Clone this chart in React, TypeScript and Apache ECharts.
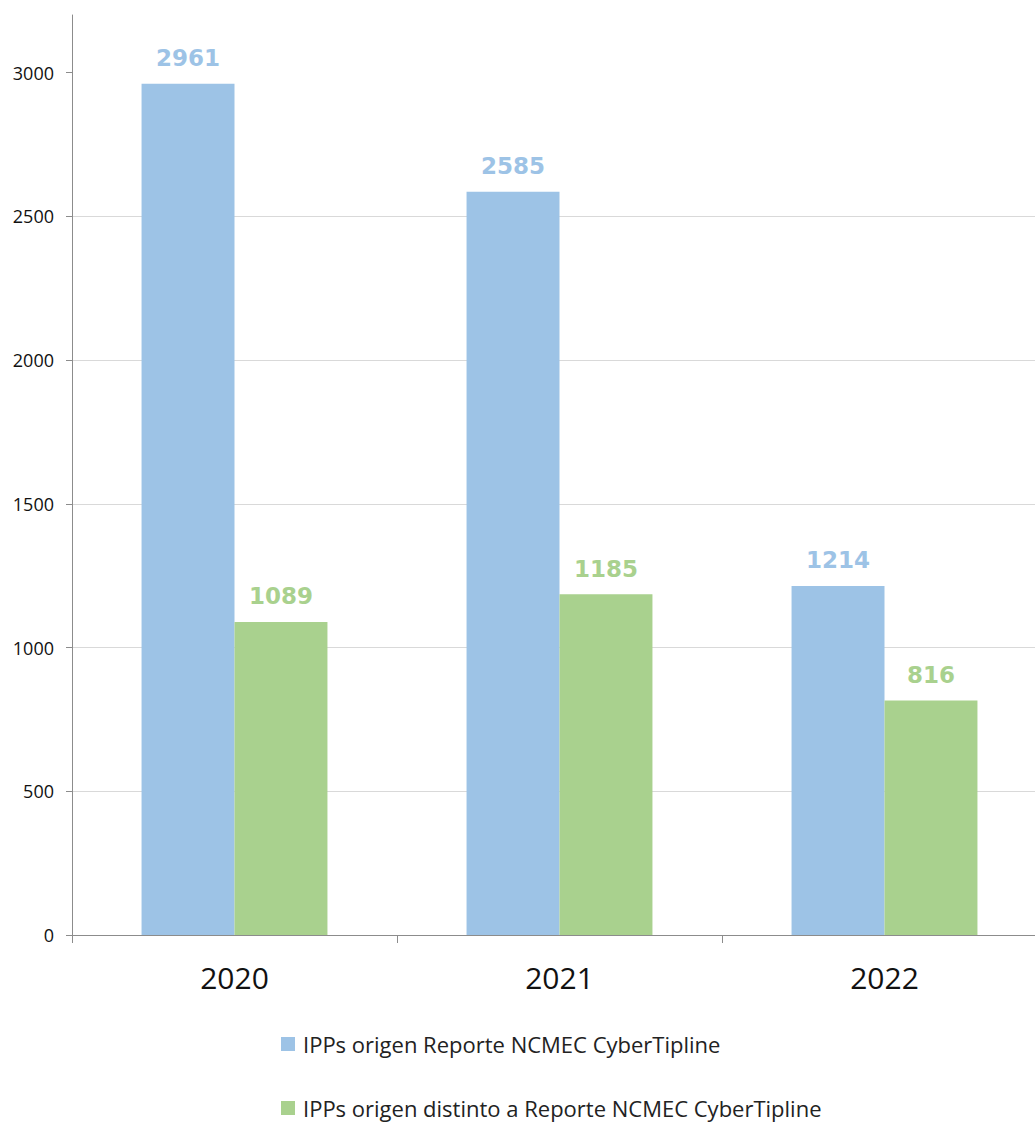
import React, { useEffect, useRef } from "react";
import * as echarts from "echarts";

const categories = ["2020", "2021", "2022"];
const seriesNames = [
  "IPPs origen Reporte NCMEC CyberTipline",
  "IPPs origen distinto a Reporte NCMEC CyberTipline",
];
const ncmecValues = [2961, 2585, 1214];
const otherValues = [1089, 1185, 816];
const yTicks = [0, 500, 1000, 1500, 2000, 2500, 3000];

const BLUE = "#9DC3E6";
const GREEN = "#A9D18E";

export default function App() {
  const ref = useRef<HTMLDivElement>(null);
  useEffect(() => {
    if (!ref.current) return;
    const chart = echarts.init(ref.current, null, { renderer: "svg" });
    const labelStyle = (color: string) => ({
      show: true,
      position: "top" as const,
      distance: 14,
      color,
      fontSize: 23,
      fontWeight: "bold" as const,
      fontFamily: "DejaVu Sans",
    });
    chart.setOption({
      animation: false,
      backgroundColor: "#ffffff",
      grid: { left: 72, top: 15, width: 975, height: 920, containLabel: false, outerBoundsMode: "none" },
      xAxis: {
        type: "category",
        data: categories,
        axisLine: { lineStyle: { color: "#8c8c8c", width: 1 } },
        axisTick: { show: true, alignWithLabel: false, length: 8, lineStyle: { color: "#8c8c8c" } },
        axisLabel: { fontSize: 30, color: "#111111", margin: 27, fontFamily: "Open Sans" },
      },
      yAxis: {
        type: "value",
        min: 0,
        max: 3200,
        interval: 500,
        axisLine: { show: true, lineStyle: { color: "#8c8c8c", width: 1 } },
        axisTick: { show: true, length: 6, lineStyle: { color: "#8c8c8c" }, customValues: yTicks },
        axisLabel: {
          fontSize: 18,
          color: "#111111",
          margin: 18,
          fontFamily: "Open Sans",
          showMaxLabel: false,
          formatter: (v: number) => String(v),
        },
        splitLine: { show: true, showMaxLine: false, lineStyle: { color: "#d9d9d9", width: 1 } },
      },
      legend: {
        orient: "vertical",
        left: 281,
        top: 1033,
        padding: 0,
        itemWidth: 14,
        itemHeight: 14,
        itemGap: 42,
        icon: "rect",
        textStyle: {
          fontSize: 22,
          lineHeight: 22,
          color: "#222222",
          fontFamily: "Open Sans",
          padding: [0, 0, 0, 3],
        },
        data: seriesNames,
      },
      series: [
        {
          name: seriesNames[0],
          type: "bar",
          data: ncmecValues,
          barGap: "0%",
          barCategoryGap: "42.8%",
          itemStyle: { color: BLUE },
          label: labelStyle(BLUE),
        },
        {
          name: seriesNames[1],
          type: "bar",
          data: otherValues,
          itemStyle: { color: GREEN },
          label: labelStyle(GREEN),
        },
      ],
    });
    return () => chart.dispose();
  }, []);
  return (
    <div
      ref={ref}
      style={{ position: "absolute", left: 0, top: 0, width: 1035, height: 1124, background: "#fff" }}
    />
  );
}
